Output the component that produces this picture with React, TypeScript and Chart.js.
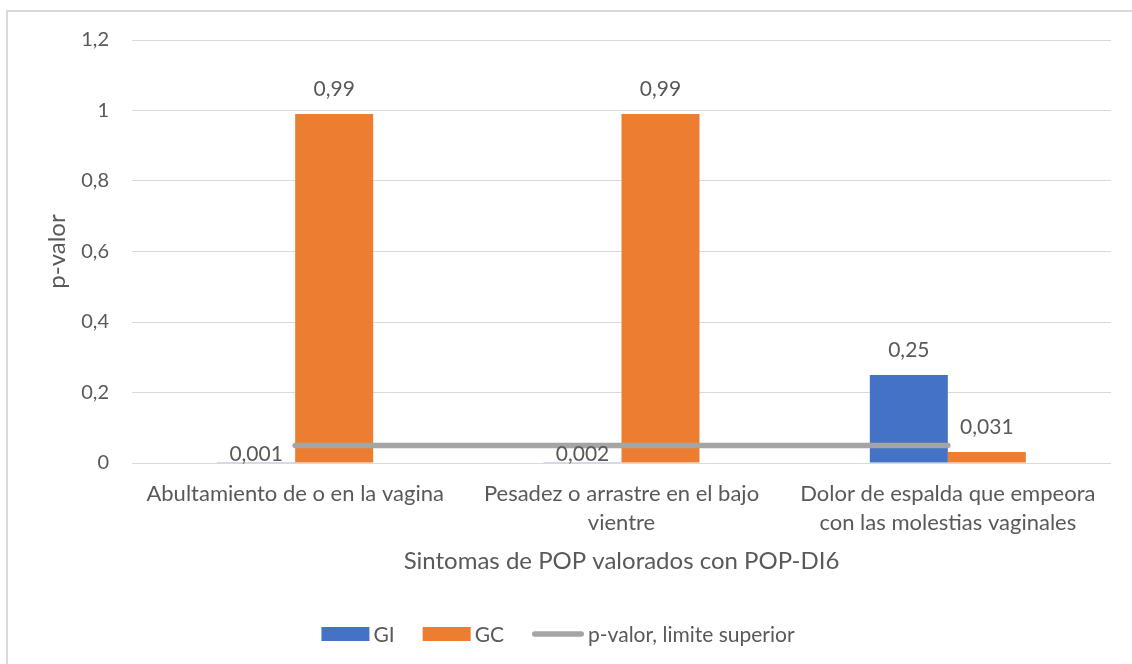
import React, { useEffect, useRef } from 'react';
import { Chart, registerables } from 'chart.js';

Chart.register(...registerables);

// ---------- data ----------
const categories: (string | string[])[] = [
  'Abultamiento de o en la vagina',
  ['Pesadez o arrastre en el bajo', 'vientre'],
  ['Dolor de espalda que empeora', 'con las molestias vaginales'],
];
const giValues = [0.001, 0.002, 0.25];
const gcValues = [0.99, 0.99, 0.031];
const limitValues = [0.05, 0.05, 0.05];
const yTickValues = [0, 0.2, 0.4, 0.6, 0.8, 1, 1.2];
const seriesLabels = ['GI', 'GC', 'p-valor, limite superior'];
const xTitle = 'Sintomas de POP valorados con POP-DI6';
const yTitle = 'p-valor';

// ---------- style ----------
const W = 1132;
const H = 664;
const FONT = 'Lato, "Open Sans", sans-serif';
const TEXT = '#595959';
const GRID = '#d9d9d9';
const BLUE = '#4472C4';
const ORANGE = '#ED7D31';
const GREY = '#A5A5A5';

const fmt = (v: number) => String(Math.round(v * 1000) / 1000).replace('.', ',');

const decorPlugin = {
  id: 'decor',
  beforeDraw(chart: any) {
    const ctx = chart.ctx;
    ctx.save();
    ctx.fillStyle = '#ffffff';
    ctx.fillRect(0, 0, chart.width, chart.height);
    ctx.strokeStyle = GRID;
    ctx.lineWidth = 2;
    ctx.beginPath();
    ctx.moveTo(7, chart.height + 5);
    ctx.lineTo(7, 11);
    ctx.lineTo(chart.width + 5, 11);
    ctx.stroke();
    ctx.restore();
  },
  afterDatasetsDraw(chart: any) {
    const ctx = chart.ctx;
    const yScale = chart.scales.y;
    const zeroY = yScale.getPixelForValue(0);
    let limitY: number | null = null;
    chart.data.datasets.forEach((ds: any) => {
      if (ds.type === 'line') limitY = yScale.getPixelForValue(ds.data[0]);
    });
    ctx.save();
    ctx.font = `21px ${FONT}`;
    ctx.fillStyle = TEXT;
    ctx.textAlign = 'center';
    ctx.textBaseline = 'middle';
    chart.data.datasets.forEach((ds: any, di: number) => {
      if (ds.type === 'line') return;
      const meta = chart.getDatasetMeta(di);
      meta.data.forEach((el: any, i: number) => {
        let y = el.y - 25;
        if (limitY !== null && Math.abs(y - limitY) < 14) {
          // label would collide with the limit line: put it between line and axis
          y = (limitY + zeroY) / 2 + 0.5;
        }
        ctx.fillText(fmt(ds.data[i]), el.x, y);
      });
    });
    ctx.restore();
  },
  afterDraw(chart: any) {
    const ctx = chart.ctx;
    ctx.save();
    ctx.font = `21px ${FONT}`;
    ctx.textBaseline = 'middle';
    ctx.textAlign = 'left';
    const boxW = 48;
    const lineSw = 52;
    const gapText = 4;
    const gapItem = 28;
    const items = chart.data.datasets.map((ds: any) => ({
      label: ds.label,
      isLine: ds.type === 'line',
      color: ds.type === 'line' ? ds.borderColor : ds.backgroundColor,
    }));
    const widths = items.map((it: any) => (it.isLine ? lineSw : boxW) + gapText + ctx.measureText(it.label).width);
    const total = widths.reduce((a: number, b: number) => a + b, 0) + gapItem * (items.length - 1);
    let x = 558 - total / 2;
    const cy = 634;
    items.forEach((it: any, i: number) => {
      if (it.isLine) {
        ctx.strokeStyle = it.color;
        ctx.lineWidth = 5.5;
        ctx.lineCap = 'round';
        ctx.beginPath();
        ctx.moveTo(x + 2.75, cy);
        ctx.lineTo(x + lineSw - 2.75, cy);
        ctx.stroke();
      } else {
        ctx.fillStyle = it.color;
        ctx.fillRect(x, cy - 7, boxW, 14);
      }
      const sw = it.isLine ? lineSw : boxW;
      ctx.fillStyle = TEXT;
      ctx.fillText(it.label, x + sw + gapText, cy + 1);
      x += widths[i] + gapItem;
    });
    ctx.restore();
  },
};

export default function App() {
  const ref = useRef<HTMLCanvasElement | null>(null);

  useEffect(() => {
    document.body.style.margin = '0';
    if (!ref.current) return;
    const chart = new Chart(ref.current, {
      type: 'bar',
      data: {
        labels: categories as any,
        datasets: [
          {
            type: 'bar',
            label: seriesLabels[0],
            data: giValues,
            backgroundColor: BLUE,
            borderWidth: 0,
            barPercentage: 1,
            categoryPercentage: 0.478,
            order: 1,
          },
          {
            type: 'bar',
            label: seriesLabels[1],
            data: gcValues,
            backgroundColor: ORANGE,
            borderWidth: 0,
            barPercentage: 1,
            categoryPercentage: 0.478,
            order: 1,
          },
          {
            type: 'line',
            label: seriesLabels[2],
            data: limitValues,
            borderColor: GREY,
            backgroundColor: GREY,
            borderWidth: 5.5,
            borderCapStyle: 'round',
            pointRadius: 0,
            fill: false,
            tension: 0,
            order: 0,
          } as any,
        ],
      },
      options: {
        responsive: false,
        animation: false,
        events: [],
        layout: { padding: { left: 0, right: 21, top: 40, bottom: 0 } },
        plugins: {
          legend: { display: false },
          tooltip: { enabled: false },
        },
        scales: {
          x: {
            grid: { display: false, drawTicks: false },
            border: { display: false },
            ticks: {
              color: TEXT,
              padding: 16,
              maxRotation: 0,
              autoSkip: false,
              font: { family: FONT, size: 22, lineHeight: 1.32 },
            },
            title: {
              display: true,
              text: xTitle,
              color: TEXT,
              font: { family: FONT, size: 24 },
              padding: { top: 0, bottom: 88 },
            },
            afterFit(scale: any) {
              scale.height = 201;
            },
          },
          y: {
            min: 0,
            max: 1.2,
            grid: { color: GRID, lineWidth: 1, drawTicks: false },
            border: { display: false },
            afterBuildTicks(scale: any) {
              scale.ticks = yTickValues.map((v) => ({ value: v }));
            },
            ticks: {
              color: TEXT,
              padding: 23,
              font: { family: FONT, size: 20 },
              callback: (v: any) => fmt(Number(v)),
            },
            title: {
              display: true,
              text: yTitle,
              color: TEXT,
              font: { family: FONT, size: 24 },
              padding: { top: 43, bottom: 0 },
            },
            afterFit(scale: any) {
              scale.width = 132;
            },
          },
        },
      },
      plugins: [decorPlugin],
    });
    return () => chart.destroy();
  }, []);

  return (
    <div style={{ width: W, height: H }}>
      <canvas ref={ref} width={W} height={H} style={{ display: 'block', width: W, height: H }} />
    </div>
  );
}
